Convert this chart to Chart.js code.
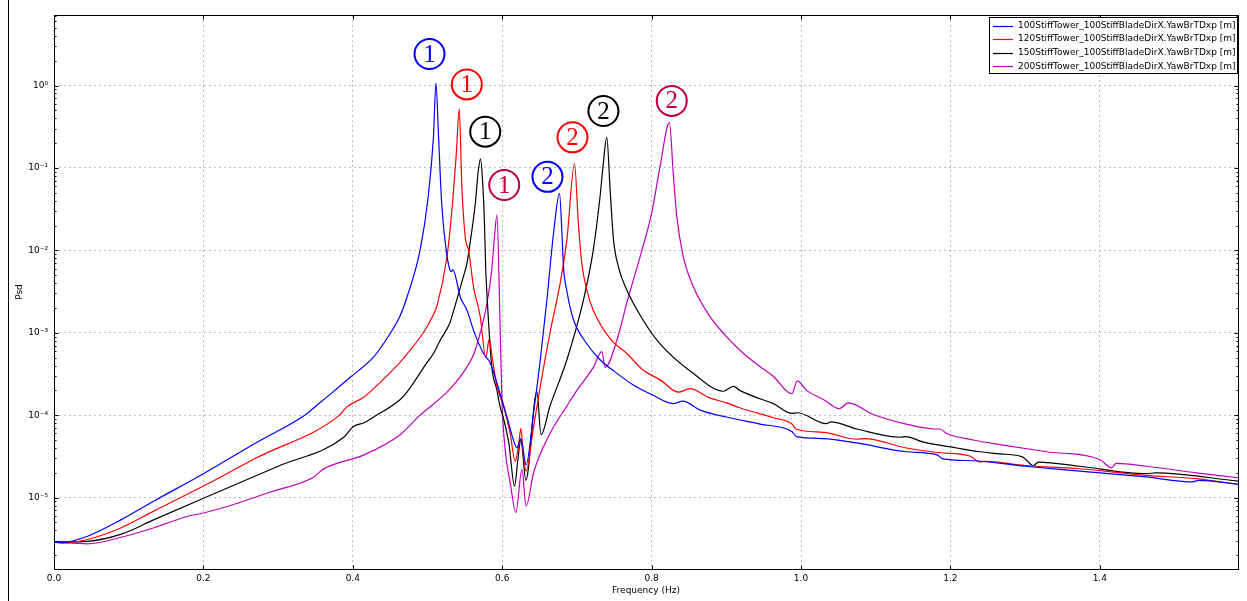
<!DOCTYPE html>
<html>
<head>
<meta charset="utf-8">
<script src="https://cdn.jsdelivr.net/npm/chart.js@4.4.0/dist/chart.umd.min.js"></script>
<style>
  html, body { margin: 0; padding: 0; background: #fff; overflow: hidden; }
  #wrap { position: relative; width: 1247px; height: 601px; }
</style>
</head>
<body>
<div id="wrap"><canvas id="psdChart" width="1247" height="601"></canvas></div>
<script>
// series labels (legend)
var seriesLabels = [
  "100StiffTower_100StiffBladeDirX.YawBrTDxp [m]",
  "120StiffTower_100StiffBladeDirX.YawBrTDxp [m]",
  "150StiffTower_100StiffBladeDirX.YawBrTDxp [m]",
  "200StiffTower_100StiffBladeDirX.YawBrTDxp [m]"
];

// 100 stiff tower
var blueFreq = [0, 0.01, 0.045, 0.09, 0.134, 0.2, 0.27, 0.339, 0.345, 0.37, 0.397, 0.428, 0.45, 0.4635, 0.4725, 0.49, 0.501, 0.508, 0.5113, 0.5148, 0.519, 0.525, 0.53, 0.532, 0.534, 0.544, 0.553, 0.5616, 0.575, 0.584, 0.597, 0.606, 0.615, 0.6197, 0.623, 0.625, 0.632, 0.642, 0.651, 0.6598, 0.6687, 0.6767, 0.68, 0.682, 0.6866, 0.695, 0.713, 0.731, 0.75, 0.775, 0.8, 0.829, 0.842, 0.865, 0.9, 0.945, 0.988, 0.994, 1.03, 1.075, 1.141, 1.182, 1.19, 1.23, 1.3, 1.373, 1.462, 1.524, 1.532, 1.585];
var bluePsd = [2.9e-6, 2.85e-6, 3.4e-6, 5.4e-6, 9.1e-6, 1.95e-5, 4.6e-5, 1.05e-4, 1.17e-4, 1.8e-4, 2.9e-4, 5.1e-4, 9.8e-4, 1.62e-3, 2.7e-3, 1e-2, 4.5e-2, 0.24, 1.07, 0.24, 3.7e-2, 1e-2, 5.8e-3, 5.5e-3, 5.8e-3, 2.7e-3, 1.86e-3, 1.07e-3, 5.6e-4, 4.3e-4, 1.86e-4, 9.8e-5, 5.0e-5, 4.0e-5, 4.8e-5, 5.2e-5, 2.5e-5, 1.07e-4, 4.7e-4, 2.5e-3, 1.6e-2, 4.9e-2, 1.6e-2, 6.3e-3, 3.2e-3, 1.48e-3, 7.4e-4, 4.7e-4, 3.4e-4, 2.34e-4, 1.78e-4, 1.38e-4, 1.48e-4, 1.15e-4, 9.5e-5, 7.8e-5, 6.3e-5, 5.5e-5, 5.2e-5, 4.6e-5, 3.6e-5, 3.3e-5, 2.95e-5, 2.8e-5, 2.4e-5, 2.1e-5, 1.78e-5, 1.55e-5, 1.62e-5, 1.45e-5];

// 120 stiff tower
var redFreq = [0, 0.01, 0.045, 0.09, 0.134, 0.2, 0.27, 0.381, 0.392, 0.415, 0.428, 0.4635, 0.4725, 0.495, 0.508, 0.5126, 0.526, 0.5327, 0.5385, 0.5425, 0.546, 0.5505, 0.555, 0.5616, 0.5706, 0.578, 0.5828, 0.586, 0.593, 0.6017, 0.6107, 0.6174, 0.6218, 0.625, 0.628, 0.632, 0.642, 0.651, 0.664, 0.6776, 0.6866, 0.6968, 0.702, 0.7066, 0.7133, 0.722, 0.7445, 0.7668, 0.789, 0.811, 0.836, 0.8515, 0.8775, 0.9006, 0.918, 0.963, 0.988, 0.993, 1.03, 1.075, 1.085, 1.141, 1.186, 1.226, 1.2395, 1.245, 1.3, 1.373, 1.462, 1.529, 1.585];
var redPsd = [2.9e-6, 2.8e-6, 3.1e-6, 4.3e-6, 6.9e-6, 1.38e-5, 3.0e-5, 9.8e-5, 1.26e-4, 1.66e-4, 2.1e-4, 4.4e-4, 5.5e-4, 1.02e-3, 1.66e-3, 2.1e-3, 8.3e-3, 3.1e-2, 0.148, 0.52, 5.9e-2, 1.45e-2, 1e-2, 3.6e-3, 1.58e-3, 5.0e-4, 8.5e-4, 5.5e-4, 2.24e-4, 1.29e-4, 6.0e-5, 2.75e-5, 4.2e-5, 6.9e-5, 3.5e-5, 2.1e-5, 7.2e-5, 2.24e-4, 1e-3, 4.0e-3, 1.35e-2, 0.112, 2.1e-2, 6.9e-3, 3.3e-3, 1.86e-3, 8.5e-4, 5.6e-4, 3.5e-4, 2.7e-4, 1.9e-4, 2.1e-4, 1.62e-4, 1.41e-4, 1.23e-4, 9.3e-5, 7.8e-5, 6.8e-5, 6.2e-5, 5.1e-5, 5.2e-5, 4.0e-5, 3.5e-5, 3.2e-5, 2.7e-5, 2.75e-5, 2.45e-5, 2.24e-5, 1.86e-5, 1.7e-5, 1.45e-5];

// 150 stiff tower
var blackFreq = [0, 0.045, 0.09, 0.134, 0.2, 0.3, 0.388, 0.4, 0.415, 0.428, 0.4635, 0.4725, 0.499, 0.508, 0.517, 0.53, 0.535, 0.548, 0.553, 0.557, 0.564, 0.568, 0.571, 0.574, 0.576, 0.578, 0.58, 0.586, 0.593, 0.597, 0.602, 0.609, 0.6165, 0.621, 0.625, 0.6317, 0.6464, 0.652, 0.664, 0.6866, 0.7088, 0.722, 0.731, 0.735, 0.74, 0.7445, 0.749, 0.7556, 0.7668, 0.789, 0.811, 0.856, 0.896, 0.9095, 0.918, 0.945, 0.963, 0.988, 0.995, 1.034, 1.04, 1.075, 1.1325, 1.14, 1.164, 1.208, 1.2395, 1.266, 1.297, 1.311, 1.318, 1.373, 1.462, 1.475, 1.585];
var blackPsd = [2.9e-6, 2.95e-6, 3.6e-6, 5.4e-6, 9.8e-6, 2.4e-5, 5.4e-5, 7.2e-5, 8.1e-5, 9.5e-5, 1.55e-4, 1.9e-4, 4.3e-4, 5.6e-4, 8.1e-4, 1.32e-3, 1.86e-3, 4.8e-3, 7.1e-3, 1.23e-2, 3.7e-2, 9.3e-2, 0.129, 6.3e-2, 2.5e-2, 5.8e-3, 2.5e-3, 3.9e-4, 2.0e-4, 1.29e-4, 8.9e-5, 4.5e-5, 1.38e-5, 2.9e-5, 5.0e-5, 1.62e-5, 1.95e-4, 5.8e-5, 1.29e-4, 4.7e-4, 2.5e-3, 1.02e-2, 4.5e-2, 0.105, 0.235, 5.4e-2, 1.35e-2, 6.3e-3, 3.3e-3, 1.41e-3, 7.4e-4, 3.2e-4, 1.95e-4, 2.24e-4, 2.0e-4, 1.58e-4, 1.38e-4, 1.05e-4, 1.07e-4, 7.9e-5, 8.3e-5, 6.8e-5, 5.4e-5, 5.5e-5, 4.7e-5, 4.0e-5, 3.6e-5, 3.4e-5, 3.1e-5, 2.45e-5, 2.7e-5, 2.4e-5, 1.95e-5, 2.0e-5, 1.58e-5];

// 200 stiff tower
var magentaFreq = [0, 0.045, 0.09, 0.134, 0.178, 0.2, 0.232, 0.29, 0.348, 0.36, 0.415, 0.4635, 0.49, 0.526, 0.548, 0.5616, 0.5706, 0.5795, 0.586, 0.5897, 0.593, 0.5965, 0.5996, 0.604, 0.6107, 0.6183, 0.6264, 0.632, 0.642, 0.664, 0.6866, 0.7, 0.722, 0.7334, 0.7378, 0.7535, 0.7668, 0.787, 0.8, 0.811, 0.8239, 0.829, 0.8337, 0.8425, 0.856, 0.878, 0.9006, 0.923, 0.945, 0.963, 0.9876, 0.995, 1.0076, 1.03, 1.0513, 1.0633, 1.0967, 1.141, 1.179, 1.186, 1.195, 1.2305, 1.266, 1.3287, 1.4, 1.4157, 1.422, 1.4625, 1.529, 1.585];
var magentaPsd = [2.9e-6, 2.75e-6, 3.3e-6, 4.3e-6, 5.9e-6, 6.5e-6, 7.8e-6, 1.17e-5, 1.78e-5, 2.2e-5, 3.3e-5, 5.8e-5, 1e-4, 1.9e-4, 3.3e-4, 5.4e-4, 1e-3, 2.24e-3, 5.8e-3, 1.48e-2, 2.7e-2, 2.24e-3, 1.55e-4, 3.8e-5, 1.51e-5, 6.6e-6, 2.2e-5, 7.9e-6, 2.0e-5, 6.0e-5, 1.29e-4, 2.0e-4, 3.8e-4, 5.9e-4, 3.8e-4, 8.1e-4, 2.3e-3, 1e-2, 2.8e-2, 0.1, 0.355, 8.5e-2, 2.6e-2, 8.3e-3, 3.6e-3, 1.58e-3, 8.9e-4, 5.6e-4, 3.9e-4, 2.95e-4, 1.82e-4, 2.6e-4, 2.0e-4, 1.55e-4, 1.2e-4, 1.41e-4, 1.02e-4, 7.8e-5, 6.8e-5, 6.8e-5, 6.0e-5, 5.0e-5, 4.4e-5, 3.6e-5, 2.9e-5, 2.3e-5, 2.6e-5, 2.4e-5, 2.0e-5, 1.74e-5];

// axis ticks
var xTicks = [0, 0.2, 0.4, 0.6, 0.8, 1.0, 1.2, 1.4];
var yTicks = [1e-5, 1e-4, 1e-3, 1e-2, 1e-1, 1e0];

// mode labels (circled numbers) placed in data coordinates
var modeText = ["1", "1", "1", "1", "2", "2", "2", "2"];
var modeFreq = [0.5027, 0.5527, 0.5773, 0.6027, 0.6606, 0.6941, 0.7355, 0.827];
var modePsd = [2.41, 1.03, 0.275, 0.062, 0.078, 0.235, 0.49, 0.65];
var modeColor = ["#0000ff", "#ff0000", "#000000", "#bf0040", "#0000ff", "#ff0000", "#000000", "#bf0040"];

var lineColors = ["#0000ff", "#ff0000", "#000000", "#bf00bf"];

function toPoints(fs, vs) {
  return fs.map(function (f, i) { return { x: f, y: vs[i] }; });
}

var supMap = { "-": "\u207B", "0": "\u2070", "1": "\u00B9", "2": "\u00B2", "3": "\u00B3", "4": "\u2074", "5": "\u2075", "6": "\u2076" };
function powLabel(v) {
  var e = String(Math.round(Math.log10(v)));
  return "10" + e.split("").map(function (ch) { return supMap[ch]; }).join("");
}

var framePlugin = {
  id: 'frame',
  afterDatasetsDraw: function (chart) {
    var c = chart.ctx, xs = chart.scales.x, ys = chart.scales.y;
    c.save();
    for (var i = 0; i < modeText.length; i++) {
      var px = xs.getPixelForValue(modeFreq[i]);
      var py = ys.getPixelForValue(modePsd[i]);
      c.strokeStyle = modeColor[i];
      c.fillStyle = modeColor[i];
      c.lineWidth = 2;
      c.beginPath();
      c.arc(px, py, 15, 0, Math.PI * 2);
      c.stroke();
      c.font = '25px "Liberation Serif"';
      c.textAlign = 'center';
      c.textBaseline = 'middle';
      c.fillText(modeText[i], px, py + 1);
    }
    c.restore();
  },
  afterDraw: function (chart) {
    var c = chart.ctx, a = chart.chartArea, xs = chart.scales.x, ys = chart.scales.y;
    c.save();
    // spines
    c.strokeStyle = '#000';
    c.lineWidth = 1;
    var L = Math.round(a.left) + 0.5, R = Math.round(a.right) + 0.5;
    var T = Math.round(a.top) + 0.5, B = Math.round(a.bottom) + 0.5;
    c.strokeRect(L, T, R - L, B - T);
    // inward ticks
    c.beginPath();
    xTicks.forEach(function (v) {
      var px = Math.round(xs.getPixelForValue(v)) + 0.5;
      c.moveTo(px, B); c.lineTo(px, B - 4);
      c.moveTo(px, T); c.lineTo(px, T + 4);
    });
    for (var e = -6; e <= 0; e++) {
      for (var m = 1; m < 10; m++) {
        var v = m * Math.pow(10, e);
        if (v < ys.min || v > ys.max) continue;
        var py = Math.round(ys.getPixelForValue(v)) + 0.5;
        var len = m === 1 ? 4 : 2;
        c.moveTo(L, py); c.lineTo(L + len, py);
        c.moveTo(R, py); c.lineTo(R - len, py);
      }
    }
    c.stroke();
    // outer frame line
    c.beginPath();
    c.moveTo(8.5, 0); c.lineTo(8.5, 601);
    c.stroke();
    // axis titles
    c.fillStyle = '#000';
    c.font = '9px "DejaVu Sans"';
    c.textAlign = 'center';
    c.textBaseline = 'middle';
    c.fillText('Frequency (Hz)', (a.left + a.right) / 2, 591);
    c.save();
    c.translate(20, (a.top + a.bottom) / 2);
    c.rotate(-Math.PI / 2);
    c.fillText('Psd', 0, 0);
    c.restore();
    // legend
    var ds = chart.data.datasets;
    c.font = '9px "DejaVu Sans"';
    var bx = 989.5, by = 17.5, bw = 1237 - 989, bh = 56;
    c.fillStyle = '#fff';
    c.fillRect(bx, by, bw, bh);
    c.strokeStyle = '#000';
    c.lineWidth = 1;
    c.strokeRect(bx, by, bw, bh);
    ds.forEach(function (d, i) {
      var yy = 25.5 + i * 13.6;
      c.strokeStyle = d.borderColor;
      c.lineWidth = 1.2;
      c.beginPath();
      c.moveTo(993, Math.round(yy) + 0.5);
      c.lineTo(1013, Math.round(yy) + 0.5);
      c.stroke();
      c.fillStyle = '#000';
      c.textAlign = 'left';
      c.textBaseline = 'middle';
      c.fillText(d.label, 1018, yy);
    });
    c.restore();
  }
};

var ctx = document.getElementById('psdChart').getContext('2d');
var psdChart = new Chart(ctx, {
  type: 'line',
  data: {
    datasets: [
      { label: seriesLabels[0], data: toPoints(blueFreq, bluePsd), borderColor: lineColors[0] },
      { label: seriesLabels[1], data: toPoints(redFreq, redPsd), borderColor: lineColors[1] },
      { label: seriesLabels[2], data: toPoints(blackFreq, blackPsd), borderColor: lineColors[2] },
      { label: seriesLabels[3], data: toPoints(magentaFreq, magentaPsd), borderColor: lineColors[3] }
    ]
  },
  options: {
    responsive: false,
    animation: false,
    devicePixelRatio: 1,
    layout: { padding: { left: 0, top: 15, right: 9, bottom: 0 } },
    plugins: { legend: { display: false }, tooltip: { enabled: false } },
    elements: {
      point: { radius: 0 },
      line: { cubicInterpolationMode: 'monotone', borderWidth: 1.2, fill: false }
    },
    scales: {
      x: {
        type: 'linear',
        min: 0,
        max: 1.585,
        afterBuildTicks: function (s) { s.ticks = xTicks.map(function (v) { return { value: v }; }); },
        afterFit: function (s) { s.height = 32; },
        grid: { color: '#bbbbbb', lineWidth: 1, drawTicks: false },
        border: { display: false, dash: [2, 3] },
        ticks: {
          padding: 4,
          color: '#000',
          autoSkip: false,
          maxRotation: 0,
          font: { family: 'DejaVu Sans', size: 9 },
          callback: function (v) { return Number(v).toFixed(1); }
        }
      },
      y: {
        type: 'logarithmic',
        min: 1.36e-6,
        max: 7.17,
        afterBuildTicks: function (s) { s.ticks = yTicks.map(function (v) { return { value: v }; }); },
        afterFit: function (s) { s.width = 54; },
        grid: { color: '#bbbbbb', lineWidth: 1, drawTicks: false },
        border: { display: false, dash: [2, 3] },
        ticks: {
          padding: 6,
          color: '#000',
          autoSkip: false,
          font: { family: 'DejaVu Sans', size: 9 },
          callback: function (v) { return powLabel(v); }
        }
      }
    }
  },
  plugins: [framePlugin]
});
</script>
</body>
</html>
